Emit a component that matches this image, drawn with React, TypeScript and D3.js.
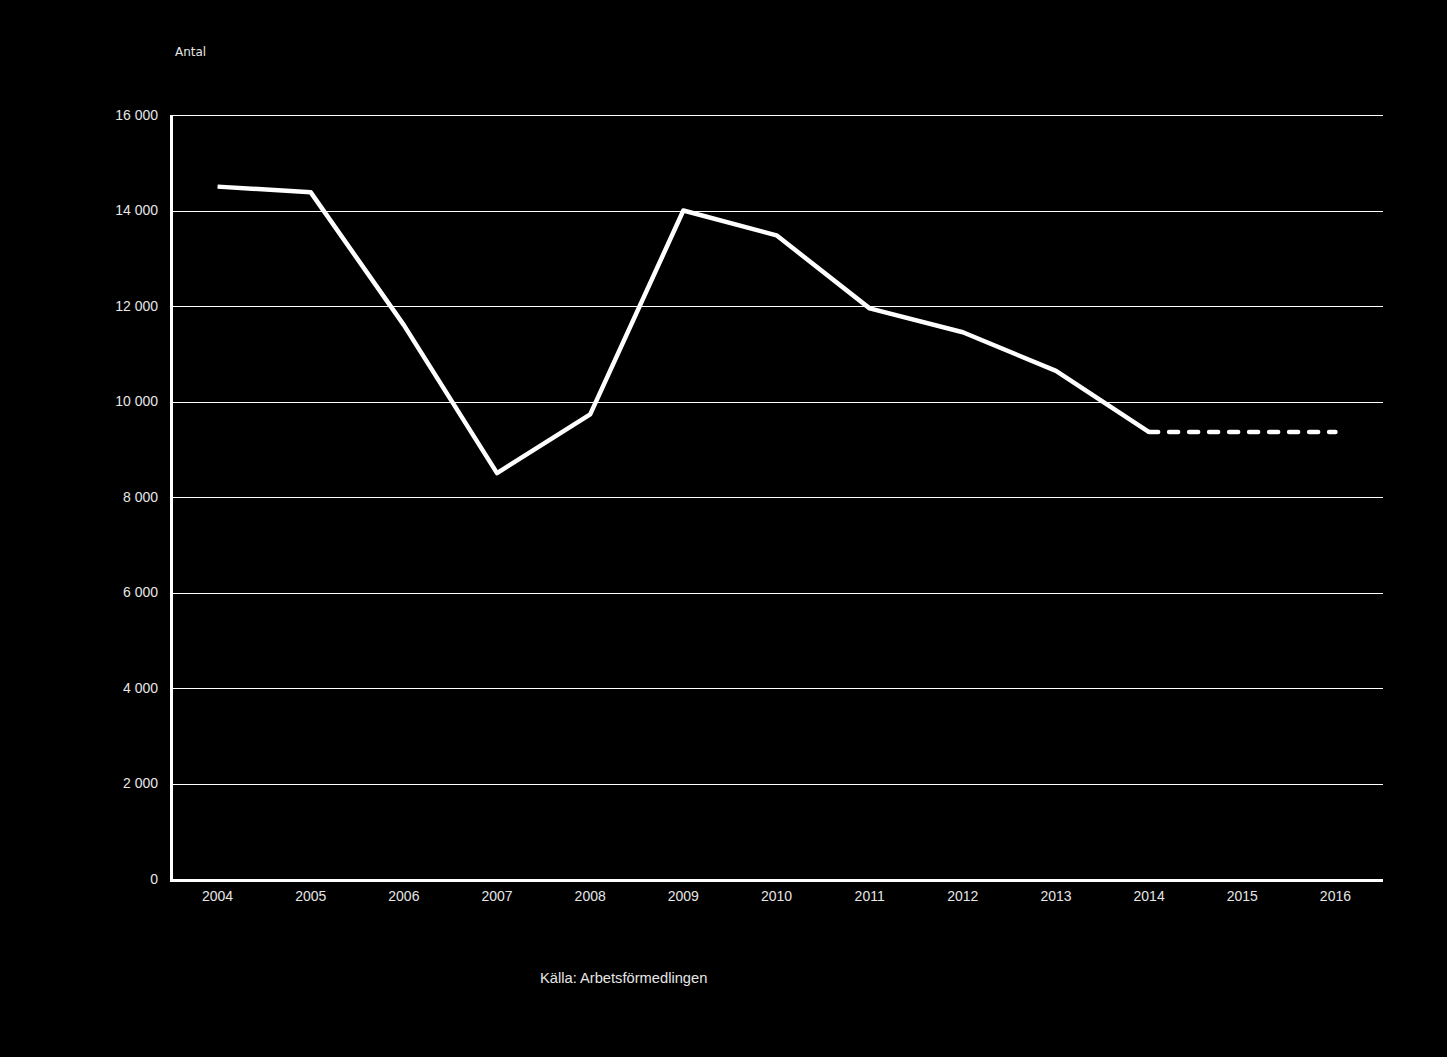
import { useEffect, useRef } from "react";
import * as d3 from "d3";

const years = ["2004", "2005", "2006", "2007", "2008", "2009", "2010", "2011", "2012", "2013", "2014", "2015", "2016"];
const actual = [14500, 14380, 11600, 8500, 9730, 14000, 13480, 11950, 11450, 10640, 9360];
const forecast = [9360, 9360, 9360];
const forecastYears = ["2014", "2015", "2016"];
const yTicks = [0, 2000, 4000, 6000, 8000, 10000, 12000, 14000, 16000];

const W = 1447;
const H = 1057;

export default function App() {
  const ref = useRef<SVGSVGElement>(null);

  useEffect(() => {
    if (!ref.current) return;
    const svg = d3.select(ref.current);
    svg.selectAll("*").remove();

    const left = 172, right = 1383, top = 115, bottom = 879;
    const x = d3.scaleBand<string>().domain(years).range([left, right]);
    const y = d3.scaleLinear().domain([0, 16000]).range([bottom, top]);
    const cx = (d: string) => (x(d) as number) + x.bandwidth() / 2;
    const fmt = (v: number) => d3.format(",")(v).replace(/,/g, " ");
    const font = "'Liberation Sans', Arial, sans-serif";
    const textColor = "#e6e6e6";

    svg.append("rect").attr("width", W).attr("height", H).attr("fill", "#000");

    // grid
    svg.append("g")
      .selectAll("line")
      .data(yTicks.filter(t => t > 0))
      .enter()
      .append("line")
      .attr("x1", left)
      .attr("x2", right)
      .attr("y1", d => Math.round(y(d)) + 0.5)
      .attr("y2", d => Math.round(y(d)) + 0.5)
      .attr("stroke", "#fff")
      .attr("stroke-width", 1);

    // y labels
    svg.append("g")
      .selectAll("text")
      .data(yTicks)
      .enter()
      .append("text")
      .attr("x", 158)
      .attr("y", d => y(d))
      .attr("dy", "0.35em")
      .attr("text-anchor", "end")
      .attr("fill", textColor)
      .style("font-family", font)
      .style("font-size", "14px")
      .text(d => fmt(d));

    // x labels
    svg.append("g")
      .selectAll("text")
      .data(years)
      .enter()
      .append("text")
      .attr("x", d => cx(d) - 1)
      .attr("y", 901)
      .attr("text-anchor", "middle")
      .attr("fill", textColor)
      .style("font-family", font)
      .style("font-size", "14px")
      .text(d => d);

    // axes
    svg.append("line")
      .attr("x1", left - 0.5).attr("x2", left - 0.5)
      .attr("y1", top).attr("y2", bottom + 3)
      .attr("stroke", "#fff").attr("stroke-width", 3);
    svg.append("line")
      .attr("x1", left - 2).attr("x2", right)
      .attr("y1", bottom + 1.5).attr("y2", bottom + 1.5)
      .attr("stroke", "#fff").attr("stroke-width", 3);

    const line = d3.line<number>()
      .x((_, i) => cx(years[i]) - 1)
      .y(d => y(d));

    svg.append("path")
      .attr("d", line(actual))
      .attr("fill", "none")
      .attr("stroke", "#fff")
      .attr("stroke-width", 4.5)
      .attr("stroke-linejoin", "round");

    const fline = d3.line<number>()
      .x((_, i) => cx(forecastYears[i]) - 1)
      .y(d => y(d));

    svg.append("path")
      .attr("d", fline(forecast))
      .attr("fill", "none")
      .attr("stroke", "#fff")
      .attr("stroke-width", 4.5)
      .attr("stroke-linecap", "round")
      .attr("stroke-dasharray", "9,11");

    svg.append("text")
      .attr("x", 175).attr("y", 56)
      .attr("fill", textColor)
      .style("font-family", "'DejaVu Sans', sans-serif")
      .style("font-size", "12px")
      .text("Antal");

    svg.append("text")
      .attr("x", 540).attr("y", 983)
      .attr("fill", textColor)
      .style("font-family", font)
      .style("font-size", "14.7px")
      .text("Källa: Arbetsförmedlingen");
  }, []);

  return (
    <svg
      ref={ref}
      width={W}
      height={H}
      viewBox={`0 0 ${W} ${H}`}
      style={{ position: "absolute", left: 0, top: 0, display: "block" }}
    />
  );
}
